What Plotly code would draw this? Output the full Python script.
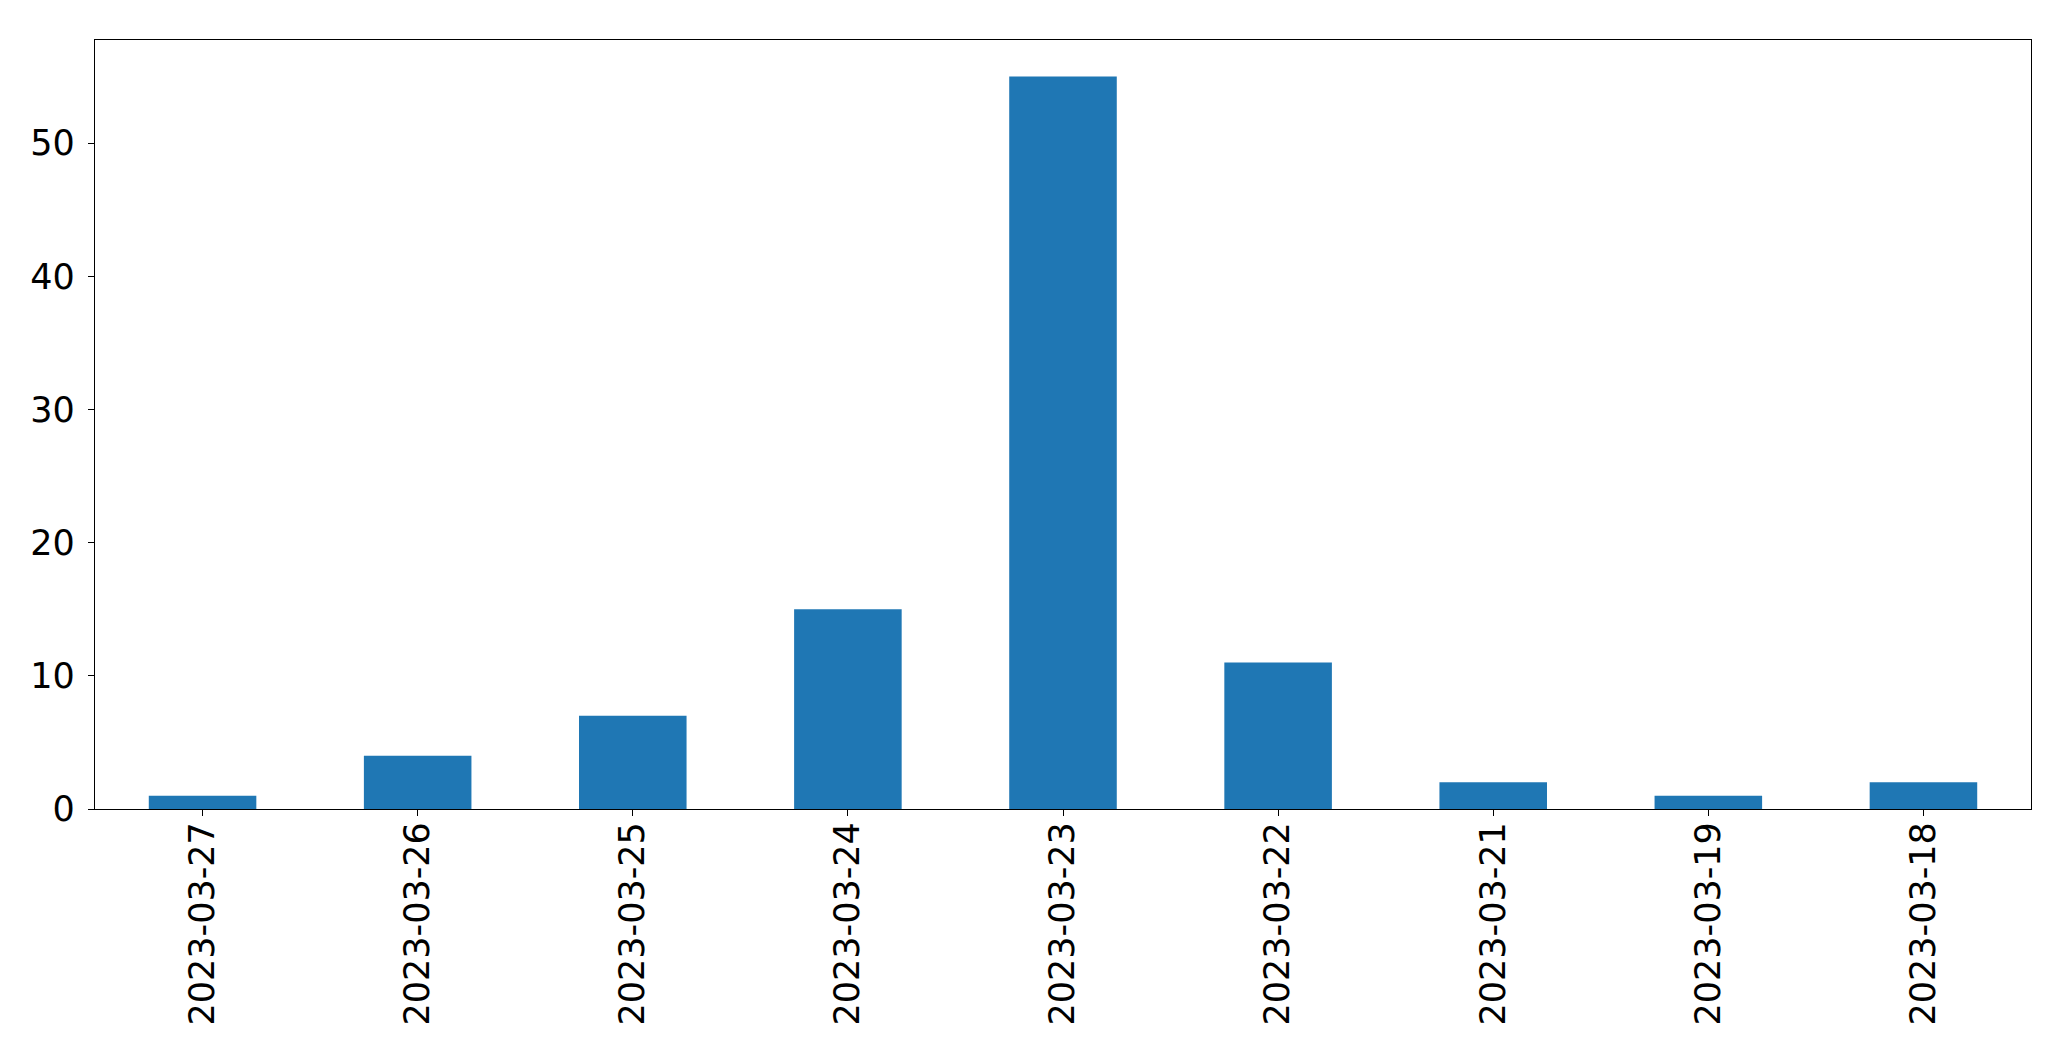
import plotly.graph_objects as go

dates = ["2023-03-27", "2023-03-26", "2023-03-25", "2023-03-24", "2023-03-23",
         "2023-03-22", "2023-03-21", "2023-03-19", "2023-03-18"]
counts = [1, 4, 7, 15, 55, 11, 2, 1, 2]
y_ticks = [0, 10, 20, 30, 40, 50]

fig = go.Figure(go.Bar(x=dates, y=counts, marker=dict(color="#1f77b4", line=dict(width=0))))

fig.update_layout(
    width=2071, height=1061,
    margin=dict(l=94.5, r=39.5, t=39.5, b=252, pad=0),
    plot_bgcolor="white", paper_bgcolor="white",
    bargap=0.5,
    showlegend=False,
    font=dict(family="DejaVu Sans", size=35, color="black"),
)
fig.update_xaxes(
    type="category", tickangle=-90,
    range=[-0.5, len(dates) - 0.5],
    showline=True, mirror=True, linecolor="black", linewidth=1.3,
    ticks="outside", ticklen=6, tickwidth=1.3, tickcolor="black",
    showgrid=False, zeroline=False, ticklabelstandoff=-8,
)
fig.update_yaxes(
    range=[0, max(counts) * 1.05],
    tickvals=y_ticks,
    showline=True, mirror=True, linecolor="black", linewidth=1.3,
    ticks="outside", ticklen=6, tickwidth=1.3, tickcolor="black",
    showgrid=False, zeroline=False, ticklabelstandoff=6,
)

fig.write_html(
    "out.html",
    config={"displayModeBar": False},
    post_script="document.body.style.margin='0';document.body.style.overflow='hidden';",
)
